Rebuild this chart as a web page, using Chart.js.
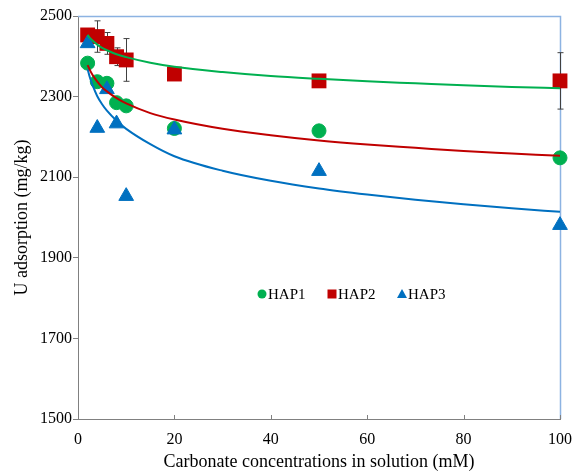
<!DOCTYPE html>
<html>
<head>
<meta charset="utf-8">
<script src="https://cdn.jsdelivr.net/npm/chart.js@4/dist/chart.umd.min.js"></script>
<style>
html,body{margin:0;padding:0;background:#fff;}
#wrap{width:583px;height:473px;position:relative;}
</style>
</head>
<body>
<div id="wrap"><canvas id="c"></canvas></div>
<script>
// ---- data ----
const seriesNames = ['HAP1', 'HAP2', 'HAP3'];
const carbonate = [2, 4, 6, 8, 10, 20, 50, 100];           // mM
const hap1 = [2383, 2337, 2333, 2285, 2277, 2221, 2215, 2148];
const hap2 = [2453, 2449, 2432, 2399, 2391, 2356, 2339, 2339];
const hap3 = [2432, 2222, 2318, 2233, 2053, 2218, 2115, 1981];
const hap2Err = [0, 39, 27, 22, 53, 0, 0, 70];

// fitted trend curves
const fitX    = [2, 2.5, 3, 4, 5, 6, 8, 10, 15, 20, 30, 40, 50, 60, 70, 80, 90, 100];
const fitHap1 = [2453, 2445, 2439, 2429, 2421, 2415, 2405, 2398, 2384, 2374, 2361, 2351, 2344, 2338, 2333, 2328, 2324, 2321];
const fitHap2 = [2378, 2365, 2354, 2337, 2323, 2313, 2296, 2283, 2259, 2243, 2220, 2204, 2191, 2181, 2173, 2165, 2159, 2153];
const fitHap3 = [2368, 2346, 2329, 2301, 2281, 2265, 2240, 2220, 2182, 2152, 2116, 2091, 2072, 2057, 2044, 2033, 2023, 2014];

const xTicks = [0, 20, 40, 60, 80, 100];
const yTicks = [1500, 1700, 1900, 2100, 2300, 2500];

const GREEN = '#00B050', RED = '#C00000', BLUE = '#0070C0';
const FONT = "'Liberation Serif','Times New Roman',serif";

const pts = (xs, ys) => xs.map((x, i) => ({x: x, y: ys[i]}));

const fitDs = (ys, color) => ({
  type: 'line', data: pts(fitX, ys), borderColor: color, borderWidth: 2,
  pointRadius: 0, fill: false, cubicInterpolationMode: 'monotone', clip: false
});

const extras = {
  id: 'extras',
  beforeDatasetsDraw(chart) {
    const ctx = chart.ctx, a = chart.chartArea;
    const xs = chart.scales.x, ys = chart.scales.y;
    ctx.save();
    // top & right frame
    ctx.strokeStyle = '#8DB3E2'; ctx.lineWidth = 1.5;
    ctx.beginPath();
    ctx.moveTo(a.left, a.top + 0.5); ctx.lineTo(a.right + 0.5, a.top + 0.5); ctx.lineTo(a.right + 0.5, a.bottom);
    ctx.stroke();
    // inward x ticks
    ctx.strokeStyle = '#808080'; ctx.lineWidth = 1;
    xTicks.forEach(v => {
      const px = Math.round(xs.getPixelForValue(v)) + 0.5;
      ctx.beginPath(); ctx.moveTo(px, a.bottom); ctx.lineTo(px, a.bottom - 4); ctx.stroke();
    });
    // error bars for HAP2
    ctx.strokeStyle = '#404040'; ctx.lineWidth = 1;
    carbonate.forEach((x, i) => {
      const e = hap2Err[i]; if (!e) return;
      const px = Math.round(xs.getPixelForValue(x)) + 0.5;
      const t = ys.getPixelForValue(hap2[i] + e), b = ys.getPixelForValue(hap2[i] - e);
      ctx.beginPath();
      ctx.moveTo(px, t); ctx.lineTo(px, b);
      ctx.moveTo(px - 3, t); ctx.lineTo(px + 3, t);
      ctx.moveTo(px - 3, b); ctx.lineTo(px + 3, b);
      ctx.stroke();
    });
    ctx.restore();
  },
  afterDraw(chart) {
    const ctx = chart.ctx;
    ctx.save();
    ctx.font = '15px ' + FONT; ctx.fillStyle = '#000'; ctx.textBaseline = 'middle';
    const y = 294;
    const items = [
      {name: seriesNames[0], color: GREEN, shape: 'circle', mx: 262},
      {name: seriesNames[1], color: RED, shape: 'rect', mx: 332},
      {name: seriesNames[2], color: BLUE, shape: 'tri', mx: 402}
    ];
    items.forEach(it => {
      ctx.fillStyle = it.color;
      ctx.beginPath();
      if (it.shape === 'circle') ctx.arc(it.mx, y, 4.5, 0, Math.PI * 2);
      else if (it.shape === 'rect') ctx.rect(it.mx - 4.5, y - 4.5, 9, 9);
      else { ctx.moveTo(it.mx, y - 5); ctx.lineTo(it.mx + 5, y + 4); ctx.lineTo(it.mx - 5, y + 4); ctx.closePath(); }
      ctx.fill();
      ctx.fillStyle = '#000';
      ctx.fillText(it.name, it.mx + 6, y + 1);
    });
    ctx.restore();
  }
};

new Chart(document.getElementById('c'), {
  type: 'scatter',
  data: {
    datasets: [
      fitDs(fitHap1, GREEN),
      fitDs(fitHap2, RED),
      fitDs(fitHap3, BLUE),
      {label: seriesNames[2], data: pts(carbonate, hap3), pointStyle: 'triangle', pointRadius: 8.5,
       backgroundColor: BLUE, borderColor: BLUE, borderWidth: 1, clip: false},
      {label: seriesNames[1], data: pts(carbonate, hap2), pointStyle: 'rect', pointRadius: 10.5,
       backgroundColor: RED, borderColor: RED, borderWidth: 0, clip: false},
      {label: seriesNames[0], data: pts(carbonate, hap1), pointStyle: 'circle', pointRadius: 7,
       backgroundColor: GREEN, borderColor: GREEN, borderWidth: 1, clip: false}
    ]
  },
  options: {
    responsive: true, maintainAspectRatio: false, animation: false,
    layout: {padding: {left: 0, top: 16, right: 23, bottom: 0}},
    plugins: {legend: {display: false}, tooltip: {enabled: false}},
    scales: {
      x: {
        type: 'linear', min: 0, max: 100,
        afterBuildTicks: s => { s.ticks = xTicks.map(v => ({value: v})); },
        afterFit: s => { s.height = 54; },
        grid: {display: false},
        border: {display: true, color: '#808080', width: 1},
        ticks: {color: '#000', font: {family: FONT, size: 16}, padding: 3, maxRotation: 0,
                callback: v => String(v)},
        title: {display: true, text: 'Carbonate concentrations in solution (mM)', color: '#000',
                font: {family: FONT, size: 18}, padding: {top: 0, bottom: 0}}
      },
      y: {
        min: 1500, max: 2500,
        afterBuildTicks: s => { s.ticks = yTicks.map(v => ({value: v})); },
        afterFit: s => { s.width = 78; },
        grid: {drawOnChartArea: false, drawTicks: true, tickLength: 5, color: '#808080'},
        border: {display: true, color: '#808080', width: 1},
        ticks: {color: '#000', font: {family: FONT, size: 16}, padding: 1,
                callback: v => String(v)},
        title: {display: true, text: 'U adsorption (mg/kg)', color: '#000',
                font: {family: FONT, size: 18}, padding: {top: 11, bottom: 0}}
      }
    }
  },
  plugins: [extras]
});
</script>
</body>
</html>
